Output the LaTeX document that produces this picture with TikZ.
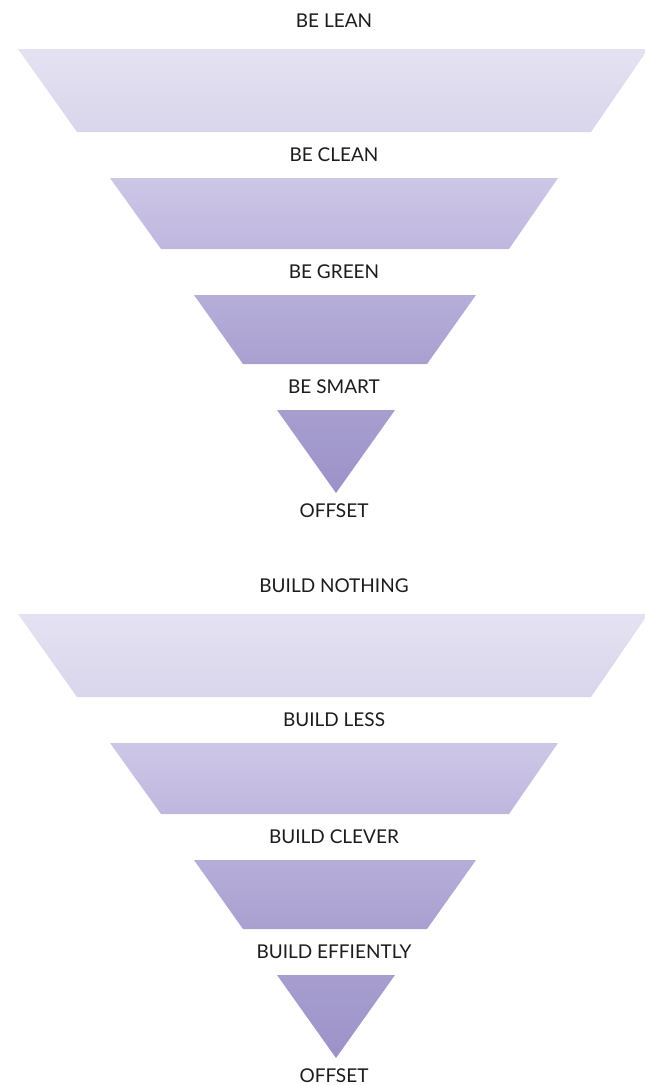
\documentclass[tikz,border=0pt]{standalone}
\usepackage{fontspec}
\setmainfont{Lato}
\usepackage{tikz}
\usetikzlibrary{positioning}
\definecolor{lvlAtop}{RGB}{228,226,242}
\definecolor{lvlAbot}{RGB}{217,213,235}
\definecolor{lvlBtop}{RGB}{205,199,231}
\definecolor{lvlBbot}{RGB}{191,183,222}
\definecolor{lvlCtop}{RGB}{182,174,217}
\definecolor{lvlCbot}{RGB}{169,160,208}
\definecolor{lvlDtop}{RGB}{167,158,207}
\definecolor{lvlDbot}{RGB}{156,146,200}
\definecolor{labelgray}{RGB}{28,28,28}

\begin{document}
\begin{tikzpicture}[x=1pt, y=-1pt,
    lbl/.style={font=\fontsize{19}{22}\selectfont, text=labelgray, inner sep=0pt}]
  \useasboundingbox (0,0) rectangle (645,1085);
  \foreach \dy/\la/\lb/\lc/\ld/\le [count=\k] in
    {0/BE LEAN/BE CLEAN/BE GREEN/BE SMART/OFFSET,
     565/BUILD NOTHING/BUILD LESS/BUILD CLEVER/BUILD EFFIENTLY/OFFSET} {
    \begin{scope}[yshift=-\dy pt]
      % funnel levels
      \shade[top color=lvlAtop, bottom color=lvlAbot] (18,49) -- (648,49) -- (591,132) -- (77,132) -- cycle;
      \shade[top color=lvlBtop, bottom color=lvlBbot] (110,178) -- (558,178) -- (509,249) -- (161,249) -- cycle;
      \shade[top color=lvlCtop, bottom color=lvlCbot] (194,295) -- (476,295) -- (427,364) -- (243,364) -- cycle;
      \shade[top color=lvlDtop, bottom color=lvlDbot] (277,410) -- (395,410) -- (336,493) -- cycle;
      % labels
      \node[lbl] (lean\k)   at (334,21)  {\la};
      \node[lbl] (clean\k)  at (334,155) {\lb};
      \node[lbl] (green\k)  at (334,272) {\lc};
      \node[lbl] (smart\k)  at (334,387) {\ld};
      \node[lbl] (offset\k) at (334,511) {\le};
    \end{scope}
  }
\end{tikzpicture}
\end{document}
